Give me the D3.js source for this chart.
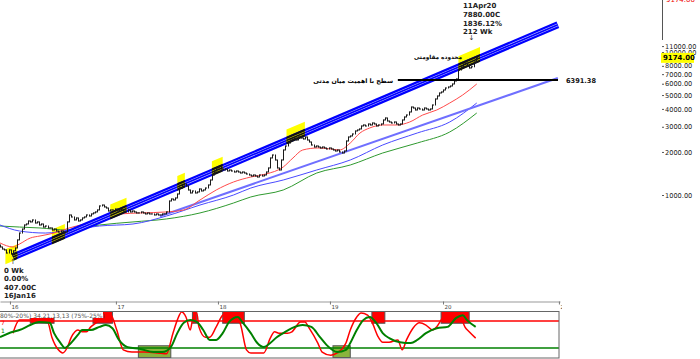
<!DOCTYPE html>
<html><head><meta charset="utf-8">
<script src="https://cdn.jsdelivr.net/npm/d3@7"></script>
<style>
html,body{margin:0;padding:0;background:#fff;overflow:hidden}
svg{display:block}
</style></head><body>
<svg id="c" width="700" height="359"></svg>
<script>
// ---------------- DATA ----------------
// weekly closes, first value is week index -6 (week 0 = 16Jan16)
const firstWeek = -6;
const weeklyClose = [
433,419,413,393,413,387,407,426,485,542,578,617,627,658,648,669,637,648,617,627,597,607,588,588,569,578,560,551,560,542,551,
648,725,702,669,691,658,669,691,702,725,713,737,749,761,786,838,851,825,811,773,786,786,798,773,798,786,773,761,786,761,
773,761,749,749,761,749,737,749,737,737,725,737,725,725,737,737,761,908,938,923,953,1016,1119,1175,1194,1156,1084,1033,1067,
1033,1050,1102,1067,1084,1119,1175,1273,1380,1472,1545,1570,1520,1496,1520,1472,1496,1472,1448,1472,1448,1425,1448,1425,1402,
1380,1358,1380,1358,1336,1380,1358,1380,1448,1545,1815,1904,1757,1545,1496,1757,2064,2201,2310,2425,2464,2504,2425,2545,2504,
2464,2545,2425,2348,2237,2166,2201,2166,2132,2166,2132,2098,2132,2098,2064,2031,2064,1999,1967,2031,2386,2545,2586,2671,2803,
2848,2895,3038,3087,3038,3137,3087,3188,3137,3038,3087,3137,3346,3456,3293,3240,3188,3240,3137,3087,3137,3346,3512,3626,3806,
4124,4058,3930,4058,3994,3930,4058,3994,3930,3994,4259,4692,4924,5168,5252,5423,5601,5692,5784,5974,6270,6475,7485,7856,8245,
8379,7984,7731,7880,8516,9174
];
// moving averages read at sample weeks: [week, value]
const maRed = [[-6,462],[0,433],[3,454],[8,500],[12.5,517],[19,542],[26,588],[33,627],[40,680],[49.5,737],[59,749],[71,761],[79,786],[86.5,923],[94,1084],[102,1233],[110,1336],[117,1402],[125,1570],[129.5,1815],[134,2064],[141,2132],[147,2098],[151,2064],[156,2310],[160.5,2714],[165,2942],[171,3087],[177.5,3087],[183.5,3240],[189.5,3626],[196,3930],[202,4399],[208,5004],[214.5,5974]];
const maBlue = [[-6,617],[3,560],[15,542],[26,569],[40,607],[55.5,627],[71,713],[86.5,851],[102,1000],[110,1119],[125,1273],[140.5,1496],[156,1757],[171,2237],[187,2714],[202,3240],[214.5,4399]];
const maGreen = [[-6,607],[3,597],[12.5,588],[25,569],[40,617],[55.5,648],[71,680],[86.5,749],[102,879],[110,969],[125,1084],[140.5,1425],[156,1621],[171,1967],[187,2310],[202,2758],[214.5,3745]];
// drawn lines: [week, price]
const channelLine = [[0,368],[252,15500]];
const supportLine = [[68,711],[252,6576]];
const levelValue = 6391.38;
const levelStartWeek = 178;
const touchZones = [[-3.5,2],[18,24],[45,52.5],[76,79.5],[92,97],[126.5,135],[206,216]];
const lastPrice = 9174;
// axes
const priceTicks = [1000,2000,3000,4000,5000,6000,7000,8000,10000,11000];
const yearTickWeeks = [-1.4,47.6,94.8,146.6,198.9,252.5];
const yearTickLabels = ["16","17","18","19","20","21"];
// stochastic (34,21,13,13): [week, %]
const stochK = [[0,53],[3,82],[8,82],[12,80],[16,78],[18,44],[21,16],[23,9],[25,20],[27,44],[30,60],[32,56],[34,56],[36,67],[39,78],[43,98],[45,96],[48,60],[51,16],[55,11],[61,11],[67,9],[71,7],[74,53],[76,82],[78,100],[80,89],[82,60],[83,82],[85,98],[86,67],[89,44],[91,44],[94,67],[97,93],[100,100],[105,76],[108,16],[110,9],[116,9],[119,42],[121,56],[123,53],[127,53],[129,56],[133,78],[135,78],[137,64],[141,31],[143,11],[147,4],[150,9],[154,31],[156,60],[159,89],[161,98],[164,93],[166,78],[169,44],[171,33],[174,33],[178,38],[180,16],[182,38],[185,64],[188,76],[191,71],[194,60],[196,67],[198,82],[201,100],[203,98],[207,89],[209,67],[211,56],[214,42]];
const stochD = [[-6,44],[0,56],[3,60],[8,71],[12,78],[17,76],[19,53],[22,31],[24,20],[26,27],[30,49],[32,60],[36,60],[40,67],[43,71],[46,64],[49,38],[53,22],[59,18],[65,11],[69,11],[73,22],[76,53],[79,76],[82,82],[85,78],[88,60],[91,38],[94,38],[97,53],[100,78],[104,89],[106,78],[110,53],[113,31],[116,22],[119,31],[122,44],[125,53],[129,64],[134,71],[138,67],[142,44],[145,27],[150,11],[154,16],[156,31],[159,60],[162,82],[165,89],[168,76],[171,53],[174,42],[179,33],[184,31],[187,38],[191,53],[196,64],[201,67],[205,87],[208,93],[210,82],[214,67]];
const overBoughtZones = [[8,19],[37,46],[83,85],[97,107],[166,172],[198,211]];
const overSoldZones = [[58,73],[148,156]];

// ---------------- CHART ----------------
const svg = d3.select('#c');
const x = d3.scaleLinear().domain([-6, 253]).range([0, 560]);
const y = d3.scaleLog().domain([1000, 10000]).range([195, 52]);
const ys = d3.scaleLinear().domain([0, 100]).range([357, 312]);
const defs = svg.append('defs');
defs.append('clipPath').attr('id','plot').append('rect').attr('x',0).attr('y',0).attr('width',560).attr('height',300);
const plot = svg.append('g').attr('clip-path','url(#plot)');

const cx0 = x(channelLine[0][0]), cy0 = y(channelLine[0][1]);
const cx1 = x(channelLine[1][0]), cy1 = y(channelLine[1][1]);
const chY = px => cy0 + (cy1 - cy0) * (px - cx0) / (cx1 - cx0);

// touch highlights
touchZones.forEach(([a,b], k) => {
  const xa = x(a), xb = x(b);
  const pts = [[xa, chY(xa)+4],[xb, chY(xb)+4],[xb, chY(xb)-11],[xa, chY(xa)-11]];
  plot.append('polygon').attr('points', pts.join(' ')).attr('fill', '#ffff00');
  defs.append('clipPath').attr('id','hz'+k).append('polygon').attr('points', pts.join(' '));
});

const lineP = d3.line().x(d => x(d[0])).y(d => y(d[1]));
const lineC = d3.line().x(d => x(d[0])).y(d => y(d[1])).curve(d3.curveMonotoneX);

plot.append('path').attr('d', lineC(maGreen)).attr('fill','none').attr('stroke','#2f9a2f').attr('stroke-width',1);
plot.append('path').attr('d', lineC(maBlue)).attr('fill','none').attr('stroke','#4a4aff').attr('stroke-width',1);
plot.append('path').attr('d', lineP(supportLine)).attr('fill','none').attr('stroke','#6f6fff').attr('stroke-width',2);
plot.append('path').attr('d', lineC(maRed)).attr('fill','none').attr('stroke','#ff4a4a').attr('stroke-width',1);

// channel line
const chD = lineP(channelLine);
plot.append('path').attr('d', chD).attr('fill','none').attr('stroke','#0000ff').attr('stroke-width',7);
plot.append('path').attr('d', chD).attr('fill','none').attr('stroke','#c8c8ff').attr('stroke-width',2.6);
plot.append('path').attr('d', chD).attr('fill','none').attr('stroke','#0000ff').attr('stroke-width',1.6);
touchZones.forEach((z, k) => {
  const g = plot.append('g').attr('clip-path', 'url(#hz'+k+')');
  g.append('path').attr('d', chD).attr('fill','none').attr('stroke','#111').attr('stroke-width',7);
  g.append('path').attr('d', chD).attr('fill','none').attr('stroke','#e8e800').attr('stroke-width',2.6);
  g.append('path').attr('d', chD).attr('fill','none').attr('stroke','#111').attr('stroke-width',1.6);
});

// price bars
let pd = '';
weeklyClose.forEach((c, k) => {
  const w = firstWeek + k;
  const xx = Math.round(x(w)) + 0.5;
  const yc = y(c);
  const yp = k > 0 ? y(weeklyClose[k-1]) : yc - 2;
  const top = Math.min(yc, yp) - 0.5, bot = Math.max(yc, yp) + 0.5;
  pd += `M${xx},${top}V${bot}M${xx},${yc}H${xx+1.5}`;
});
plot.append('path').attr('d', pd).attr('fill','none').attr('stroke','#1a1a1a').attr('stroke-width',1);

// level line
const ly = Math.round(y(levelValue));
plot.append('line').attr('x1', x(levelStartWeek)).attr('x2', 558).attr('y1', ly).attr('y2', ly).attr('stroke','#000').attr('stroke-width',2);

const fa = '"DejaVu Sans", sans-serif';
function fitText(sel, w) {
  const n = sel.node(); const len = n.getComputedTextLength();
  const fs = parseFloat(sel.attr('font-size'));
  sel.attr('font-size', (fs * w / len).toFixed(2));
}
svg.append('text').attr('x', 566).attr('y', ly + 3).attr('font-family', fa).attr('font-weight','bold').attr('font-size',6.6).attr('fill','#111').text(levelValue.toFixed(2));
const t1 = svg.append('text').attr('x', 393).attr('y', ly + 3).attr('text-anchor','end').attr('font-family', fa).attr('font-weight','bold').attr('font-size',8).attr('fill','#000').text('سطح با اهمیت میان مدتی');
fitText(t1, 80);
const t2 = svg.append('text').attr('x', 462).attr('y', 59).attr('text-anchor','end').attr('font-family', fa).attr('font-weight','bold').attr('font-size',8).attr('fill','#000').text('محدوده مقاومتی');
fitText(t2, 48);

// annotations
const lastW = 212, lastC = weeklyClose[lastW - firstWeek];
const ann = ['11Apr20', lastC.toFixed(2) + 'C', ((lastC / weeklyClose[0 - firstWeek] - 1) * 100).toFixed(2) + '%', lastW + ' Wk'];
[8, 17.3, 25.5, 33.5].forEach((yy, k) => svg.append('text').attr('x', 463).attr('y', yy).attr('font-family', fa).attr('font-weight','bold').attr('font-size',7).attr('fill','#222').text(ann[k]));
svg.append('text').attr('x', x(lastW)).attr('y', 40).attr('text-anchor','middle').attr('font-family', fa).attr('font-size',7).attr('fill','#333').text('↓');
const ann0 = ['0 Wk', '0.00%', weeklyClose[0 - firstWeek].toFixed(2) + 'C', '16Jan16'];
[272.5, 281, 289.5, 298].forEach((yy, k) => svg.append('text').attr('x', 4).attr('y', yy).attr('font-family', fa).attr('font-weight','bold').attr('font-size',7).attr('fill','#222').text(ann0[k]));
svg.append('text').attr('x', x(0)).attr('y', 264).attr('text-anchor','middle').attr('font-family', fa).attr('font-size',7).attr('fill','#333').text('↑');

// right price axis
const ax = svg.append('g').attr('transform','translate(662,0)')
  .call(d3.axisRight(y).tickValues(priceTicks).tickSize(2).tickPadding(1).tickFormat(d => d.toFixed(2)));
ax.select('.domain').remove();
ax.selectAll('text').attr('font-family', fa).attr('font-size', 6.6).attr('fill','#222');
ax.selectAll('line').attr('stroke','#555');
svg.append('line').attr('x1',662.5).attr('x2',662.5).attr('y1',0).attr('y2',40).attr('stroke','#555');
const yl = y(lastPrice);
svg.append('rect').attr('x',661).attr('y',yl-4.5).attr('width',33).attr('height',10).attr('fill','#ffff00');
svg.append('text').attr('x',663).attr('y',yl+3).attr('font-family', fa).attr('font-weight','bold').attr('font-size',7).attr('fill','#000').text(lastPrice.toFixed(2));
svg.append('text').attr('x',666).attr('y',1.5).attr('font-family', fa).attr('font-size',7).attr('fill','#e00').text('9174.00');

// x axis
defs.append('clipPath').attr('id','xax').append('rect').attr('x',-1).attr('y',-5).attr('width',563).attr('height',20);
const xa = svg.append('g').attr('transform','translate(0,301.5)').attr('clip-path','url(#xax)')
  .call(d3.axisBottom(x).tickValues(yearTickWeeks).tickSize(3).tickSizeOuter(0).tickFormat((d, k) => yearTickLabels[k]));
xa.select('.domain').attr('stroke','#999');
xa.selectAll('line').attr('stroke','#777');
xa.selectAll('text').attr('font-family', fa).attr('font-size',5.5).attr('fill','#444').attr('text-anchor','start').attr('dx',1).attr('dy','0.3em');

// stochastic panel
const sp = svg.append('g');
overBoughtZones.forEach(([a,b]) => sp.append('rect').attr('x', x(a)).attr('y', 311.5).attr('width', x(b)-x(a)).attr('height', ys(75)-311.5).attr('fill','#ff0000').attr('stroke','#555').attr('stroke-width',1));
overSoldZones.forEach(([a,b]) => sp.append('rect').attr('x', x(a)).attr('y', ys(25)).attr('width', x(b)-x(a)).attr('height', 357.5-ys(25)).attr('fill','#8ab43c').attr('stroke','#555').attr('stroke-width',1));
sp.append('line').attr('x1',0).attr('x2',559).attr('y1',ys(80)).attr('y2',ys(80)).attr('stroke','#ff0000').attr('stroke-width',1.5);
sp.append('line').attr('x1',0).attr('x2',559).attr('y1',ys(20)).attr('y2',ys(20)).attr('stroke','#008000').attr('stroke-width',1.5);
const lineS = d3.line().x(d => x(d[0])).y(d => ys(d[1])).curve(d3.curveMonotoneX);
sp.append('path').attr('d', lineS(stochK)).attr('fill','none').attr('stroke','#ff0000').attr('stroke-width',1.5);
sp.append('path').attr('d', lineS(stochD)).attr('fill','none').attr('stroke','#008000').attr('stroke-width',2);
sp.append('rect').attr('x',0).attr('y',311.5).attr('width',103).attr('height',6.5).attr('fill','#fff');
sp.append('text').attr('x',-2.3).attr('y',317.5).attr('font-family', fa).attr('font-size',6).attr('fill','#555').text('(80%-20%) 34,21,13,13 (75%-25%)');
sp.append('text').attr('x',1).attr('y',324.5).attr('font-family', fa).attr('font-size',6).attr('fill','#ff0000').text('7');
sp.append('text').attr('x',1).attr('y',332.5).attr('font-family', fa).attr('font-size',6).attr('fill','#008000').text('1');
sp.append('rect').attr('x',-1).attr('y',311.5).attr('width',560).attr('height',46.5).attr('fill','none').attr('stroke','#666').attr('stroke-width',1);
</script></body></html>
